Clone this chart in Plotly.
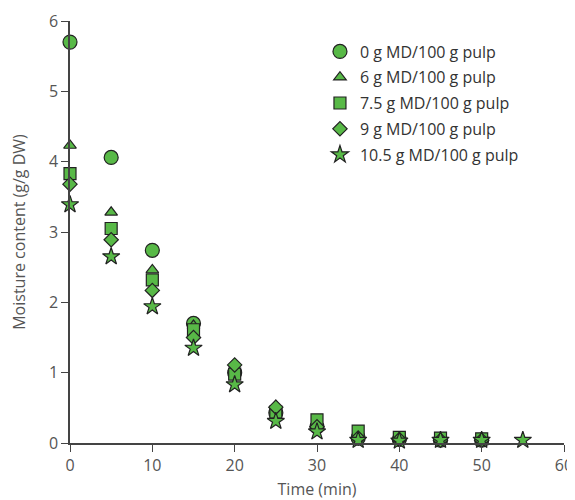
import plotly.graph_objects as go

time = [0, 5, 10, 15, 20, 25, 30, 35, 40, 45, 50]
time_star = [0, 5, 10, 15, 20, 25, 30, 35, 40, 45, 50, 55]

series_names = ["0 g MD/100 g pulp", "6 g MD/100 g pulp", "7.5 g MD/100 g pulp",
                "9 g MD/100 g pulp", "10.5 g MD/100 g pulp"]
md0 = [5.70, 4.06, 2.74, 1.70, 1.00, 0.43, 0.23, 0.07, 0.05, 0.04, 0.04]
md6 = [4.23, 3.28, 2.46, 1.67, 1.07, 0.53, 0.30, 0.16, 0.07, 0.05, 0.05]
md75 = [3.83, 3.05, 2.32, 1.61, 0.98, 0.44, 0.33, 0.17, 0.08, 0.07, 0.06]
md9 = [3.68, 2.89, 2.17, 1.50, 1.11, 0.51, 0.23, 0.07, 0.05, 0.04, 0.04]
md105 = [3.39, 2.65, 1.94, 1.35, 0.83, 0.31, 0.16, 0.04, 0.03, 0.04, 0.04, 0.04]

symbols = ["circle", "triangle-up", "square", "diamond", "star"]
sizes = [14, 11, 12, 11, 13]
xs = [time, time, time, time, time_star]
ys = [md0, md6, md75, md9, md105]

fill = "#58B947"
edge = "#222222"
font = "Open Sans, Noto Sans, sans-serif"

fig = go.Figure()
for i, (name, x, y, sym, sz) in enumerate(zip(series_names, xs, ys, symbols, sizes)):
    fig.add_trace(go.Scatter(
        x=x, y=y, mode="markers", name=name, cliponaxis=False,
        legendgroup=f"g{i}",
        marker=dict(symbol=sym, size=sz, color=fill, line=dict(color=edge, width=1.2)),
    ))

fig.update_layout(
    width=567, height=492,
    margin=dict(l=62, r=11, t=13, b=57),
    paper_bgcolor="white", plot_bgcolor="white",
    font=dict(family=font, size=16, color="#555555"),
    showlegend=True,
    legend=dict(x=0.506, y=0.968, xanchor="left", yanchor="top",
                font=dict(size=16, color="#333333"),
                bgcolor="rgba(0,0,0,0)", itemsizing="trace",
                tracegroupgap=2),
    xaxis=dict(range=[0, 60], tickvals=[0, 10, 20, 30, 40, 50, 60],
               showgrid=False, zeroline=False, showline=True, linecolor="#444444",
               linewidth=1.5, ticks="outside", ticklen=7, tickcolor="#444444",
               automargin=False,
               tickfont=dict(size=16, color="#555555"),
               title=dict(text="Time (min)", font=dict(size=16, color="#555555"), standoff=11)),
    yaxis=dict(range=[0, 6], tickvals=[0, 1, 2, 3, 4, 5, 6],
               showgrid=False, zeroline=False, showline=True, linecolor="#444444",
               linewidth=1.5, ticks="outside", ticklen=7, tickcolor="#444444",
               automargin=False,
               tickfont=dict(size=16, color="#555555"),
               title=dict(text="Moisture content (g/g DW)", font=dict(size=16, color="#555555"), standoff=19)),
)

fig.write_html("out.html")
